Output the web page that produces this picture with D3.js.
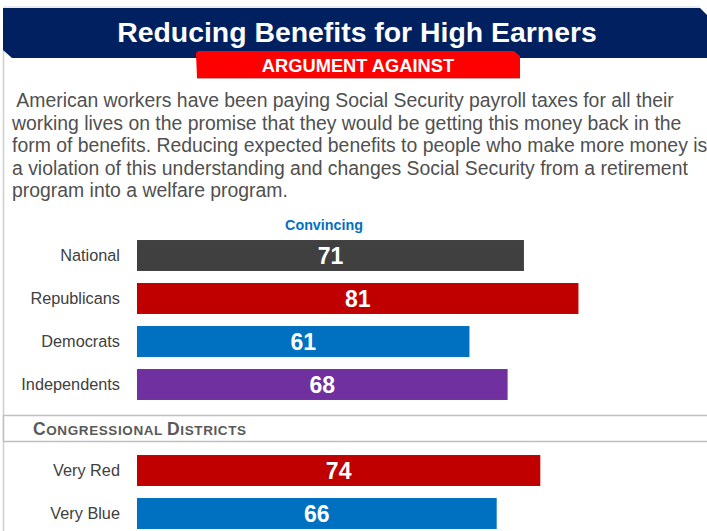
<!DOCTYPE html>
<html lang="en">
<head>
    <meta charset="UTF-8">
    <title>Reducing Benefits for High Earners</title>
    <style>
        body { margin: 0; background: #fff; overflow: hidden; }
        svg { display: block; font-family: Arial, 'Liberation Sans', sans-serif; }
        .cat { font-size: 16.3px; fill: #404040; }
        .val { font-size: 23px; font-weight: bold; fill: #fff; }
        .para { font-size: 19.4px; fill: #505050; }
    </style>
</head>
<body>
    <svg id="chart" width="707" height="531"></svg>
    <script src="https://d3js.org/d3.v7.min.js"></script>
    <script>
        // data
        const partyCats = ["National", "Republicans", "Democrats", "Independents"];
        const partyVals = [71, 81, 61, 68];
        const partyColors = ["#404040", "#c00000", "#0070c0", "#7030a0"];

        const districtCats = ["Very Red", "Very Blue"];
        const districtVals = [74, 66];
        const districtColors = ["#c00000", "#0070c0"];

        const paraLines = [
            " American workers have been paying Social Security payroll taxes for all their",
            "working lives on the promise that they would be getting this money back in the",
            "form of benefits. Reducing expected benefits to people who make more money is",
            "a violation of this understanding and changes Social Security from a retirement",
            "program into a welfare program."
        ];

        const svg = d3.select("#chart");

        // left frame line
        svg.append("line")
            .attr("x1", 3.5).attr("x2", 3.5).attr("y1", 50).attr("y2", 531)
            .attr("stroke", "#cfcfcf").attr("stroke-width", 1.5);

        // title banner
        svg.append("line")
            .attr("x1", 3).attr("x2", 700).attr("y1", 7).attr("y2", 7)
            .attr("stroke", "#d8d8d8");
        svg.append("path")
            .attr("d", "M3,8 L700,8 L707,15 L707,58 L12,58 L3,50 Z")
            .attr("fill", "#002060");
        svg.append("text")
            .attr("x", 357).attr("y", 42)
            .attr("text-anchor", "middle")
            .attr("fill", "#fff")
            .attr("font-size", 28.4).attr("font-weight", "bold")
            .text("Reducing Benefits for High Earners");

        // red sub-banner
        svg.append("path")
            .attr("d", "M198,51 L514,51 L520,56 L520,78 L197,78 L196,53 Z")
            .attr("fill", "#ff0000");
        svg.append("line")
            .attr("x1", 197).attr("x2", 520).attr("y1", 78.5).attr("y2", 78.5)
            .attr("stroke", "#d0a0a0");
        svg.append("text")
            .attr("x", 358).attr("y", 72)
            .attr("text-anchor", "middle")
            .attr("fill", "#fff")
            .attr("font-size", 18.3).attr("font-weight", "bold")
            .text("ARGUMENT AGAINST");

        // paragraph
        svg.append("g").selectAll("text")
            .data(paraLines)
            .enter().append("text")
            .attr("class", "para")
            .attr("xml:space", "preserve")
            .style("white-space", "pre")
            .attr("x", 12)
            .attr("y", (d, i) => 107 + i * 22.6)
            .text(d => d);

        // scales
        const x = d3.scaleLinear().domain([0, 100]).range([137, 682]);

        svg.append("text")
            .attr("x", 324).attr("y", 230)
            .attr("text-anchor", "middle")
            .attr("fill", "#0070c0")
            .attr("font-size", 14.3).attr("font-weight", "bold")
            .text("Convincing");

        function drawGroup(cats, vals, colors, top) {
            const y = d3.scaleBand()
                .domain(cats)
                .range([top, top + cats.length * 43])
                .paddingInner(0.28).paddingOuter(0.14);
            const rows = svg.append("g").selectAll("g")
                .data(cats.map((c, i) => ({ cat: c, val: vals[i], color: colors[i] })))
                .enter().append("g");
            rows.append("rect")
                .attr("x", x(0))
                .attr("y", d => y(d.cat))
                .attr("width", d => x(d.val) - x(0))
                .attr("height", y.bandwidth())
                .attr("fill", d => d.color);
            rows.append("text")
                .attr("class", "cat")
                .attr("x", 120)
                .attr("y", d => y(d.cat) + y.bandwidth() / 2)
                .attr("dy", "0.35em")
                .attr("text-anchor", "end")
                .text(d => d.cat);
            rows.append("text")
                .attr("class", "val")
                .attr("x", d => (x(0) + x(d.val)) / 2)
                .attr("y", d => y(d.cat) + y.bandwidth() / 2)
                .attr("dy", "0.36em")
                .attr("text-anchor", "middle")
                .text(d => d.val);
        }

        drawGroup(partyCats, partyVals, partyColors, 234);

        // section header box
        svg.append("rect")
            .attr("x", 3.5).attr("y", 415.5).attr("width", 710).attr("height", 26)
            .attr("fill", "#fff")
            .attr("stroke", "#bfbfbf").attr("stroke-width", 1.5);
        const sec = svg.append("text")
            .attr("x", 33).attr("y", 434.5)
            .attr("fill", "#595959").attr("font-weight", "bold")
            .attr("letter-spacing", 0.6);
        [["C", 17.5], ["ONGRESSIONAL ", 13.5], ["D", 17.5], ["ISTRICTS", 13.5]].forEach(([t, s]) => {
            sec.append("tspan").attr("font-size", s).text(t);
        });

        drawGroup(districtCats, districtVals, districtColors, 449);
    </script>
</body>
</html>
